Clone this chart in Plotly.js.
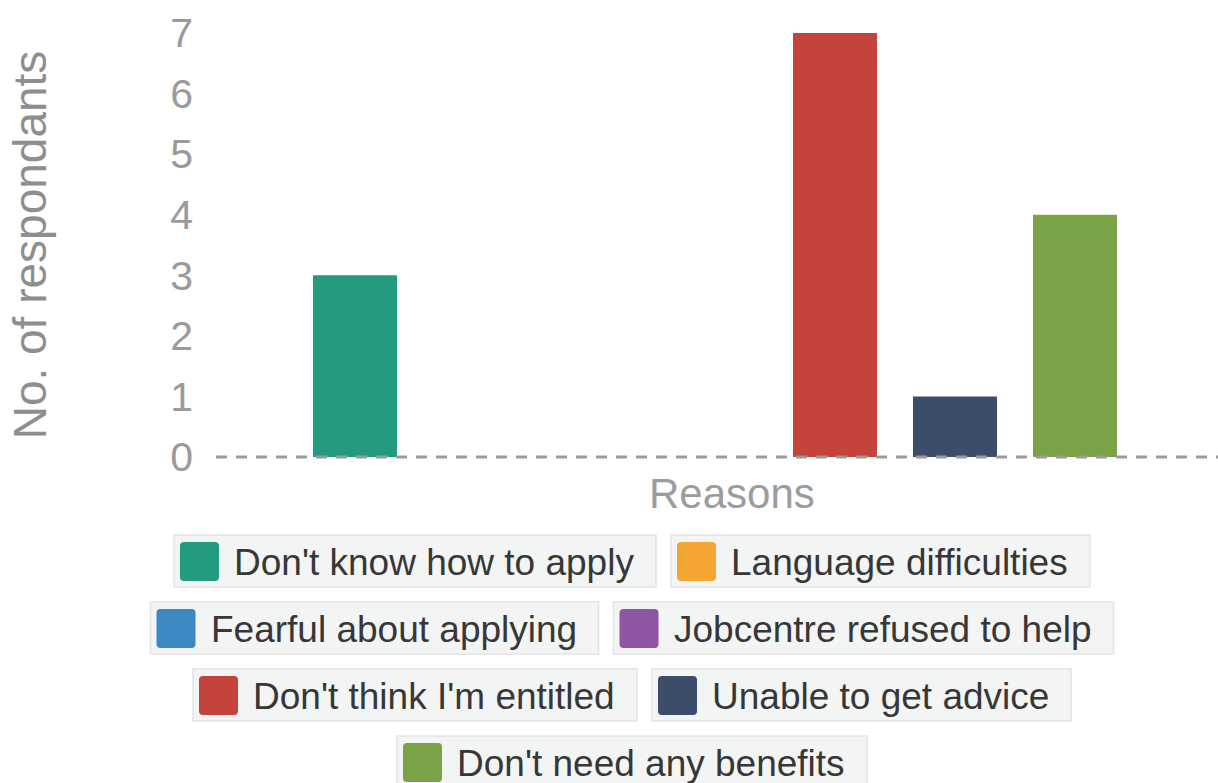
<!DOCTYPE html>
<html><head><meta charset="utf-8">
<script src="https://cdn.plot.ly/plotly-3.0.1.min.js"></script>
<style>html,body{margin:0;padding:0;background:#fff;}#chart{width:1218px;height:783px;}</style>
</head><body><div id="chart"></div>
<script>
// ---- data ----
const categories = ["Don't know how to apply","Language difficulties","Fearful about applying","Jobcentre refused to help","Don't think I'm entitled","Unable to get advice","Don't need any benefits"];
const values = [3, 0, 0, 0, 7, 1, 4];
const colors = ["#229b80","#f5a532","#3b88c3","#8f55a3","#c4433a","#3b4d6b","#7aa247"];
const groupLabel = "Reasons";
const yTicks = [0, 1, 2, 3, 4, 5, 6, 7];
const yTitle = "No. of respondants";

// ---- layout geometry (pixels) ----
const FIG_W = 1218, FIG_H = 783;
const L = 216, T = 33, PW = 998, PH = 424;
const FONT = 'Liberation Sans, Arial, sans-serif';
const px2x = p => (p - L) / PW;
const py2y = p => (T + PH - p) / PH;

const traces = categories.map((c, i) => ({
  type: 'bar', name: c, x: [groupLabel], y: [values[i]],
  marker: {color: colors[i], line: {width: 0}},
  showlegend: false, hoverinfo: 'name+y'
}));

// ---- custom legend (boxed items, centred rows) ----
const LEG_FONT = 37;
const ctx = document.createElement('canvas').getContext('2d');
ctx.font = LEG_FONT + 'px "Liberation Sans", Arial, sans-serif';
const items = categories.map((c, i) => ({i, w: Math.round(ctx.measureText(c).width) + 82}));
const MAXW = 1000, GAP = 15, CX = 632, ROW0 = 535, BOXH = 52, PITCH = 67;
const rows = [];
let cur = [], curW = 0;
items.forEach(it => {
  const add = cur.length ? GAP + it.w : it.w;
  if (cur.length && curW + add > MAXW) { rows.push({items: cur, w: curW}); cur = [it]; curW = it.w; }
  else { cur.push(it); curW += add; }
});
if (cur.length) rows.push({items: cur, w: curW});

const shapes = [];
const annotations = [];
rows.forEach((r, ri) => {
  let x = CX - r.w / 2;
  const top = ROW0 + ri * PITCH;
  r.items.forEach(it => {
    shapes.push({type: 'rect', xref: 'paper', yref: 'paper', layer: 'above',
      x0: px2x(x), x1: px2x(x + it.w), y0: py2y(top), y1: py2y(top + BOXH),
      fillcolor: '#f3f4f4', line: {color: '#e3e4e4', width: 1.5}});
    const s0x = x + 6, s0y = top + 7, S = 39, R = 4;
    const P = (a, b) => px2x(a).toFixed(5) + ',' + py2y(b).toFixed(5);
    const path = 'M' + P(s0x + R, s0y) + ' L' + P(s0x + S - R, s0y) + ' Q' + P(s0x + S, s0y) + ' ' + P(s0x + S, s0y + R) +
      ' L' + P(s0x + S, s0y + S - R) + ' Q' + P(s0x + S, s0y + S) + ' ' + P(s0x + S - R, s0y + S) +
      ' L' + P(s0x + R, s0y + S) + ' Q' + P(s0x, s0y + S) + ' ' + P(s0x, s0y + S - R) +
      ' L' + P(s0x, s0y + R) + ' Q' + P(s0x, s0y) + ' ' + P(s0x + R, s0y) + ' Z';
    shapes.push({type: 'path', xref: 'paper', yref: 'paper', layer: 'above', path: path,
      fillcolor: colors[it.i], line: {width: 0}});
    annotations.push({xref: 'paper', yref: 'paper', x: px2x(x + 58), y: py2y(top + BOXH / 2 + 1),
      xanchor: 'left', yanchor: 'middle', showarrow: false, text: categories[it.i],
      font: {family: FONT, size: LEG_FONT, color: '#373737'}});
    x += it.w + GAP;
  });
});

// dashed zero line (paper refs so it is not clipped at the plot edge)
shapes.push({type: 'line', xref: 'paper', yref: 'paper', x0: 0, x1: px2x(1220), y0: 0, y1: 0,
  layer: 'above', line: {color: '#9a9a9a', width: 3, dash: '11px,9px'}});

// x-axis title
annotations.push({xref: 'paper', yref: 'paper', x: px2x(732), y: py2y(493), xanchor: 'center', yanchor: 'middle',
  showarrow: false, text: groupLabel, font: {family: FONT, size: 42, color: '#9c9c9c'}});

const layout = {
  width: FIG_W, height: FIG_H,
  margin: {l: L, r: FIG_W - L - PW, t: T, b: FIG_H - T - PH, pad: 0},
  paper_bgcolor: '#fff', plot_bgcolor: '#fff',
  font: {family: FONT},
  barmode: 'group', bargap: 1 - 840 / PW, bargroupgap: 0.3,
  xaxis: {type: 'category', showticklabels: false, showgrid: false, zeroline: false, showline: false, ticks: '', fixedrange: true},
  yaxis: {range: [0, 7], tickvals: yTicks, ticktext: yTicks.map(String), showgrid: false, zeroline: false, showline: false,
    ticks: '', ticklabelstandoff: 22, tickfont: {family: FONT, size: 41, color: '#9a9a9a'}, automargin: false,
    title: {text: yTitle, font: {family: FONT, size: 46, color: '#8e8e8e'}, standoff: 109}},
  shapes: shapes, annotations: annotations,
  showlegend: false
};

Plotly.newPlot('chart', traces, layout, {displayModeBar: false, staticPlot: true});
</script>
</body></html>
